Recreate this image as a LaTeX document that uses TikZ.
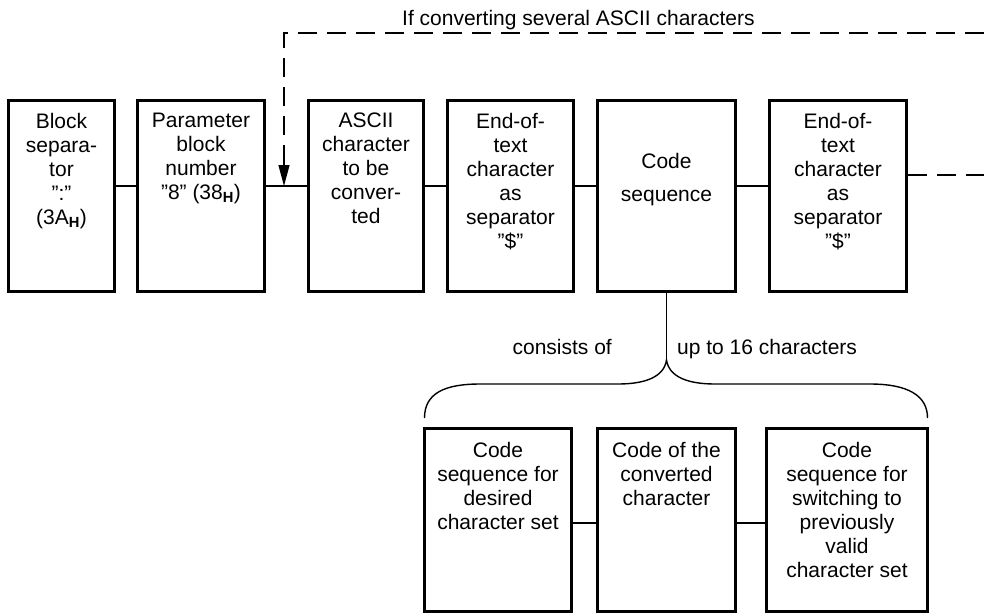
\documentclass[tikz,border=0pt]{standalone}
\usepackage{fontspec}
\setmainfont{Liberation Sans}
\usetikzlibrary{arrows.meta}
\begin{document}
\begin{tikzpicture}[x=1pt,y=-1pt,
  box/.style={draw,line width=3pt,rectangle,inner sep=0pt},
  txt/.style={anchor=north,align=center,inner sep=0pt,font=\fontsize{21}{24}\selectfont},
  lbl/.style={inner sep=0pt,font=\fontsize{21}{24}\selectfont},
  link/.style={line width=1.3pt},
  flow/.style={line width=1.8pt,dash pattern=on 19pt off 10pt},
  bracepath/.style={line width=1.4pt}]
\useasboundingbox (0,0) rectangle (984,614);

% reference rows for the connectors
\coordinate (row) at (0,186);
\coordinate (row2) at (0,523);

% upper row of blocks
\node[box,minimum width=106pt,minimum height=191pt] (b1) at (61.5,195.5) {};
\node[txt] (t1) at (61.5,113) {Block\\separa-\\tor\\”:”\\(3A\textsubscript{\bfseries H})};
\node[box,minimum width=127pt,minimum height=191pt] (b2) at (201,195.5) {};
\node[txt] (t2) at (201,113) {Parameter\\block\\number\\”8” (38\textsubscript{\bfseries H})};
\node[box,minimum width=115pt,minimum height=191pt] (b3) at (366,195.5) {};
\node[txt] (t3) at (366,113) {ASCII\\character\\to be\\conver-\\ted};
\node[box,minimum width=126pt,minimum height=191pt] (b4) at (510.5,195.5) {};
\node[txt] (t4) at (510.5,113) {End-of-\\text\\character\\as\\separator\\”\$”};
\node[box,minimum width=138pt,minimum height=191pt] (b5) at (666.5,195.5) {};
\node[txt] (t5) at (666.5,153) {Code\\[9pt]sequence};
\node[box,minimum width=137pt,minimum height=191pt] (b6) at (838,195.5) {};
\node[txt] (t6) at (838,113) {End-of-\\text\\character\\as\\separator\\”\$”};

% links between the upper blocks
\draw[link] (b1.east |- row) -- (b2.west |- row);
\draw[link] (b2.east |- row) -- (b3.west |- row);
\draw[link] (b3.east |- row) -- (b4.west |- row);
\draw[link] (b4.east |- row) -- (b5.west |- row);
\draw[link] (b5.east |- row) -- (b6.west |- row);

% loop back for several characters
\coordinate (join) at (284,186);
\coordinate (loopend) at (984,33);
\coordinate (ahead) at (284,164);
\coordinate (outend) at (984,175);
\draw[flow] (ahead) -- (join |- loopend) -- (loopend);
\draw[line width=1.3pt,-{Triangle[length=21pt,width=11pt]}] (ahead) -- (join);
\node[lbl,anchor=base west] (loop) at (402,25) {If converting several ASCII characters};
\draw[flow] (b6.east |- outend) -- (outend);

% breakdown of the code sequence
\coordinate (tip) at (666.5,360);
\draw[link] (b5.south) -- (tip);
\draw[bracepath] (424.5,418) .. controls (424.5,393) and (445,384) .. (480,384)
  -- (618,384) .. controls (645,384) and (664,377) .. (tip)
  .. controls (669,377) and (688,384) .. (715,384)
  -- (870,384) .. controls (907,384) and (927.5,395) .. (927.5,418);
\node[lbl,anchor=base east] (cons) at (612,354) {consists of};
\node[lbl,anchor=base west] (upto) at (677,354) {up to 16 characters};

% lower row of blocks
\node[box,minimum width=147pt,minimum height=183pt] (c1) at (498,520) {};
\node[txt] (u1) at (498,442) {Code\\sequence for\\desired\\character set};
\node[box,minimum width=138pt,minimum height=183pt] (c2) at (666.5,520) {};
\node[txt] (u2) at (666.5,442) {Code of the\\converted\\character};
\node[box,minimum width=161pt,minimum height=183pt] (c3) at (847,520) {};
\node[txt] (u3) at (847,442) {Code\\sequence for\\switching to\\previously\\valid\\character set};

\draw[link] (c1.east |- row2) -- (c2.west |- row2);
\draw[link] (c2.east |- row2) -- (c3.west |- row2);
\end{tikzpicture}
\end{document}
